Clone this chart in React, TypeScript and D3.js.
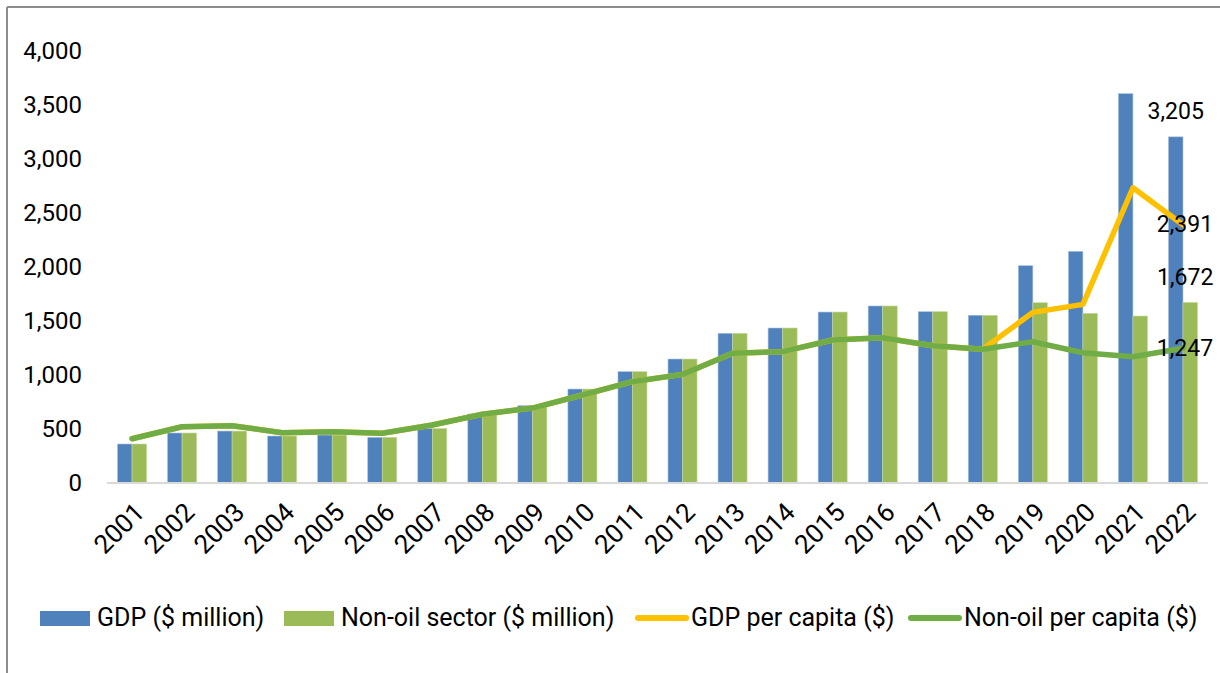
import React from "react";
import * as d3 from "d3";

const years = ["2001","2002","2003","2004","2005","2006","2007","2008","2009","2010","2011","2012","2013","2014","2015","2016","2017","2018","2019","2020","2021","2022"];
const gdp = [361,463,481,435,444,423,505,639,716,870,1031,1148,1386,1435,1583,1639,1586,1553,2012,2145,3605,3205];
const nonOil = [361,463,481,435,444,423,505,639,716,870,1031,1148,1386,1435,1583,1639,1586,1553,1669,1571,1546,1672];
const gdpPerCapita = [410,521,531,466,475,460,537,636,694,815,938,1006,1201,1216,1324,1345,1271,1238,1580,1654,2734,2391];
const nonOilPerCapita = [410,521,531,466,475,460,537,636,694,815,938,1006,1201,1216,1324,1345,1271,1238,1308,1206,1169,1247];
const yTicks = [0,500,1000,1500,2000,2500,3000,3500,4000];
const legendItems = [
  { label: "GDP ($ million)", kind: "rect", color: "#4F81BD", x: 40 },
  { label: "Non-oil sector ($ million)", kind: "rect", color: "#9BBB59", x: 284 },
  { label: "GDP per capita ($)", kind: "line", color: "#FFC000", x: 636 },
  { label: "Non-oil per capita ($)", kind: "line", color: "#70AD47", x: 909 },
];

const FONT = "Roboto, 'DejaVu Sans', sans-serif";

export default function App() {
  const W = 1220, H = 673;
  const x = d3.scaleBand<string>().domain(years).range([107, 1208]).paddingInner(0.42).paddingOuter(0.21);
  const y = d3.scaleLinear().domain([0, 4000]).range([483, 51]);
  const bw = x.bandwidth() / 2;
  const cx = (yr: string) => (x(yr) as number) + x.bandwidth() / 2;
  const fmt = d3.format(",");
  const line = d3.line<number>().x((_, i) => cx(years[i])).y(d => y(d));
  const last = years.length - 1;
  const lastYr = years[last];

  return (
    <svg width={W} height={H} style={{ position: "absolute", left: 0, top: 0, background: "#fff" }} fontFamily={FONT}>
      <rect x={0} y={0} width={W} height={H} fill="#fff" />
      <line x1={7} y1={7} x2={W} y2={7} stroke="#8c8c8c" strokeWidth={2} />
      <line x1={7} y1={7} x2={7} y2={H} stroke="#8c8c8c" strokeWidth={2} />
      {yTicks.map(t => (
        <text key={t} x={82} y={y(t)} textAnchor="end" dominantBaseline="central" fontSize={24} fill="#000">{fmt(t)}</text>
      ))}
      {years.map((yr, i) => (
        <g key={yr}>
          <rect x={x(yr)} y={y(gdp[i])} width={bw} height={y(0) - y(gdp[i])} fill="#4F81BD" stroke="#a9c0de" strokeWidth={0.6} />
          <rect x={(x(yr) as number) + bw} y={y(nonOil[i])} width={bw} height={y(0) - y(nonOil[i])} fill="#9BBB59" stroke="#c6d9a0" strokeWidth={0.6} />
        </g>
      ))}
      <line x1={107} x2={1208} y1={y(0)} y2={y(0)} stroke="#d9d9d9" strokeWidth={2} />
      <path d={line(gdpPerCapita) || ""} fill="none" stroke="#FFC000" strokeWidth={5.5} strokeLinejoin="round" strokeLinecap="round" />
      <path d={line(nonOilPerCapita) || ""} fill="none" stroke="#70AD47" strokeWidth={5.5} strokeLinejoin="round" strokeLinecap="round" />
      {years.map(yr => (
        <text key={yr} transform={`translate(${cx(yr) + 14},${514}) rotate(-45)`} textAnchor="end" fontSize={26} fill="#000">{yr}</text>
      ))}
      <text x={(x(lastYr) as number) + bw / 2} y={y(gdp[last]) - 25} textAnchor="middle" dominantBaseline="central" fontSize={23}>{fmt(gdp[last])}</text>
      <text x={(x(lastYr) as number) + bw * 1.5 - 5} y={y(nonOil[last]) - 25} textAnchor="middle" dominantBaseline="central" fontSize={23}>{fmt(nonOil[last])}</text>
      <text x={cx(lastYr) + 2} y={y(gdpPerCapita[last])} textAnchor="middle" dominantBaseline="central" fontSize={23}>{fmt(gdpPerCapita[last])}</text>
      <text x={cx(lastYr) + 2} y={y(nonOilPerCapita[last])} textAnchor="middle" dominantBaseline="central" fontSize={23}>{fmt(nonOilPerCapita[last])}</text>
      {legendItems.map(it => (
        <g key={it.label}>
          {it.kind === "rect"
            ? <rect x={it.x} y={611} width={50} height={15} fill={it.color} />
            : <line x1={it.x + 2} x2={it.x + 50} y1={618} y2={618} stroke={it.color} strokeWidth={6} strokeLinecap="round" />}
          <text x={it.x + (it.kind === "rect" ? 57 : 55)} y={617} dominantBaseline="central" fontSize={25}>{it.label}</text>
        </g>
      ))}
    </svg>
  );
}
